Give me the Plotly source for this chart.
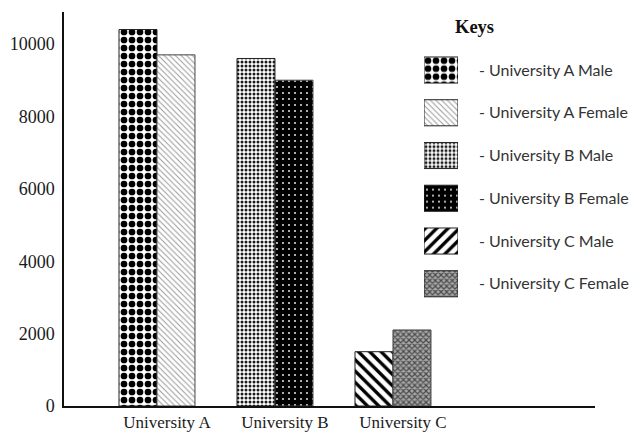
import plotly.graph_objects as go

# Enrolment by university and sex
universities = ["University A", "University B", "University C"]
male = [10400, 9600, 1500]
female = [9700, 9000, 2100]
y_ticks = [0, 2000, 4000, 6000, 8000, 10000]
y_tick_text = ["0", "2000", "4000", "6000", "8000", "10000"]
key_labels = [
    "- University A Male",
    "- University A Female",
    "- University B Male",
    "- University B Female",
    "- University C Male",
    "- University C Female",
]

# Fill patterns, one per (university, sex) bar
male_pat = dict(
    shape=[".", ".", "\\"],
    fgcolor=["#000000", "#1a1a1a", "#000000"],
    bgcolor=["#ffffff", "#ffffff", "#ffffff"],
    size=[8, 4, 8],
    solidity=[0.55, 0.45, 0.42],
    fillmode="replace",
)
female_pat = dict(
    shape=["\\", ".", "x"],
    fgcolor=["#9a9a9a", "#ffffff", "#4a4a4a"],
    bgcolor=["#ffffff", "#000000", "#a8a8a8"],
    size=[4, 6, 4],
    solidity=[0.25, 0.07, 0.5],
    fillmode="replace",
)
key_pat = dict(
    shape=[".", "\\", ".", ".", "/", "x"],
    fgcolor=["#000000", "#9a9a9a", "#1a1a1a", "#ffffff", "#000000", "#4a4a4a"],
    bgcolor=["#ffffff", "#ffffff", "#ffffff", "#000000", "#ffffff", "#a8a8a8"],
    size=[8, 4, 4, 6, 8, 4],
    solidity=[0.55, 0.25, 0.45, 0.07, 0.42, 0.5],
    fillmode="replace",
)

fig = go.Figure()
fig.add_trace(go.Bar(
    x=universities, y=male, name="Male",
    marker=dict(color="white", pattern=male_pat, line=dict(color="#222", width=1)),
    showlegend=False,
))
fig.add_trace(go.Bar(
    x=universities, y=female, name="Female",
    marker=dict(color="white", pattern=female_pat, line=dict(color="#444", width=1)),
    showlegend=False,
))

# Key swatches drawn as unit-length bars on their own small axis pair
fig.add_trace(go.Bar(
    x=[1] * len(key_labels), y=key_labels, orientation="h",
    xaxis="x2", yaxis="y2", width=0.61,
    marker=dict(color="white", pattern=key_pat, line=dict(color="#222", width=1)),
    showlegend=False,
))

serif = "Liberation Serif"
fig.update_layout(
    width=643, height=432,
    margin=dict(l=64, r=48, t=12, b=26),
    paper_bgcolor="white", plot_bgcolor="white",
    barmode="group", bargap=0.356, bargroupgap=0,
    xaxis=dict(
        type="category", range=[-0.788, 3.712], automargin=False,
        showline=True, linecolor="#111", linewidth=1.5,
        showgrid=False, zeroline=False, ticks="",
        tickfont=dict(family=serif, size=17, color="#1a1a1a"),
        ticklabelshift=10, ticklabelstandoff=0,
    ),
    yaxis=dict(
        range=[0, 10884], tickvals=y_ticks, ticktext=y_tick_text,
        automargin=False,
        showline=True, linecolor="#111", linewidth=1.5,
        showgrid=False, zeroline=False, ticks="",
        tickfont=dict(family=serif, size=18, color="#1a1a1a"),
        ticklabelstandoff=4,
    ),
    xaxis2=dict(domain=[0.678, 0.742], anchor="y2", range=[0, 1],
                visible=False, automargin=False),
    yaxis2=dict(
        domain=[0.256, 0.907], anchor="x2", type="category",
        range=[5.5, -0.5], side="right", automargin=False,
        showline=False, showgrid=False, zeroline=False, ticks="",
        ticklabelstandoff=20,
        tickfont=dict(family="Lato", size=16, color="#333"),
    ),
    annotations=[dict(
        text="<b>Keys</b>", xref="paper", yref="paper",
        x=0.774, y=0.962, xanchor="center", yanchor="middle",
        showarrow=False, font=dict(family=serif, size=18.5, color="#111"),
    )],
)

fig.write_html("out.html")
